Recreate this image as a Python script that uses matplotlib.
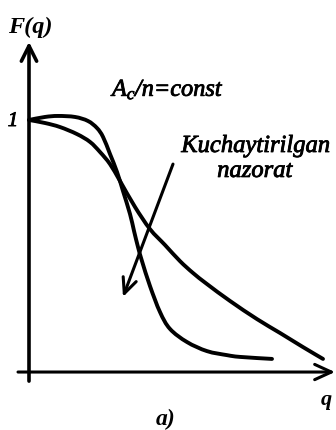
import matplotlib
matplotlib.use('Agg')
import matplotlib.pyplot as plt
import matplotlib.patheffects as pe
from matplotlib.path import Path
from matplotlib.patches import PathPatch
import numpy as np

plt.rcParams['font.family'] = ['Liberation Serif', 'DejaVu Serif']
plt.rcParams['mathtext.fontset'] = 'custom'
plt.rcParams['mathtext.rm'] = 'Liberation Serif:italic'
plt.rcParams['mathtext.it'] = 'Liberation Serif:italic'

# kuchaytirilgan nazorat: tekis boshlanib keskin tushadigan egri chiziq
q_strict = [0.00, 0.16, 0.29, 0.46, 0.59, 0.68, 0.74, 0.81, 0.88, 0.94,
            1.01, 1.05, 1.09, 1.13, 1.21, 1.31, 1.41, 1.58, 1.78, 1.98,
            2.11, 2.43]
f_strict = [1.000, 1.012, 1.016, 1.012, 0.996, 0.968, 0.933, 0.865, 0.794,
            0.718, 0.627, 0.560, 0.496, 0.440, 0.341, 0.238, 0.171, 0.119,
            0.083, 0.067, 0.060, 0.052]

# oddiy nazorat: silliq tushadigan egri chiziq
q_normal = [0.00, 0.16, 0.31, 0.48, 0.61, 0.71, 0.81, 0.91, 1.06, 1.21,
            1.36, 1.51, 1.64, 1.78, 2.01, 2.28, 2.51, 2.74, 2.94]
f_normal = [1.000, 0.988, 0.972, 0.944, 0.913, 0.873, 0.825, 0.758, 0.655,
            0.567, 0.504, 0.440, 0.393, 0.349, 0.282, 0.210, 0.155, 0.099,
            0.052]

# strelka: boshi va uchi
arrow_from = (1.44, 0.825)
arrow_to = (0.94, 0.298)


def smooth_path(xs, ys):
    """Nuqtalar orqali Catmull-Rom -> kubik Bezier yo'li."""
    p = np.column_stack([xs, ys])
    verts = [p[0]]
    codes = [Path.MOVETO]
    n = len(p)
    for i in range(n - 1):
        p0 = p[max(i - 1, 0)]
        p1 = p[i]
        p2 = p[i + 1]
        p3 = p[min(i + 2, n - 1)]
        c1 = p1 + (p2 - p0) / 6.0
        c2 = p2 - (p3 - p1) / 6.0
        verts += [c1, c2, p2]
        codes += [Path.CURVE4] * 3
    return Path(verts, codes)


fig = plt.figure(figsize=(3.36, 4.31), dpi=100)
ax = fig.add_axes([0, 0, 1, 1])
ax.set_xlim(-0.29, 3.07)
ax.set_ylim(-0.230, 1.480)
ax.axis('off')

lw = 2.8
for xs, ys in [(q_strict, f_strict), (q_normal, f_normal)]:
    ax.add_patch(PathPatch(smooth_path(xs, ys), fill=False, ec='black',
                           lw=lw, capstyle='round', joinstyle='round'))

# koordinata o'qlari
ax.annotate('', xy=(0, 1.31), xytext=(0, -0.036),
            arrowprops=dict(arrowstyle='->,head_length=1.1,head_width=0.55',
                            lw=2.6, color='black', shrinkA=0, shrinkB=0))
ax.annotate('', xy=(3.06, 0), xytext=(-0.11, 0),
            arrowprops=dict(arrowstyle='->,head_length=1.2,head_width=0.55',
                            lw=2.2, color='black', shrinkA=0, shrinkB=0))

ax.annotate('', xy=arrow_to, xytext=arrow_from,
            arrowprops=dict(arrowstyle='->,head_length=1.1,head_width=0.5',
                            lw=2.2, color='black', shrinkA=0, shrinkB=0))

# yozuvlar biroz qalinroq ko'rinishi uchun
thick = [pe.withStroke(linewidth=0.6, foreground='black')]

ax.text(-0.21, 1.349, 'F(q)', fontsize=17.5, style='italic', weight='bold',
        ha='left', va='baseline')
ax.text(-0.16, 0.976, '1', fontsize=15, style='italic', ha='center',
        va='baseline', path_effects=thick)
ax.text(0.83, 1.095, r'$A_c$/n=const', fontsize=17.5, style='italic',
        ha='left', va='baseline', path_effects=thick)
ax.text(2.27, 0.873, 'Kuchaytirilgan', fontsize=17.7, style='italic',
        ha='center', va='baseline', path_effects=thick)
ax.text(2.26, 0.774, 'nazorat', fontsize=17.7, style='italic',
        ha='center', va='baseline', path_effects=thick)
ax.text(2.97, -0.127, 'q', fontsize=16, style='italic', weight='bold',
        ha='center', va='baseline')
ax.text(1.37, -0.206, 'a)', fontsize=17, style='italic', weight='bold',
        ha='center', va='baseline')

fig.savefig('out.png', dpi=100)
